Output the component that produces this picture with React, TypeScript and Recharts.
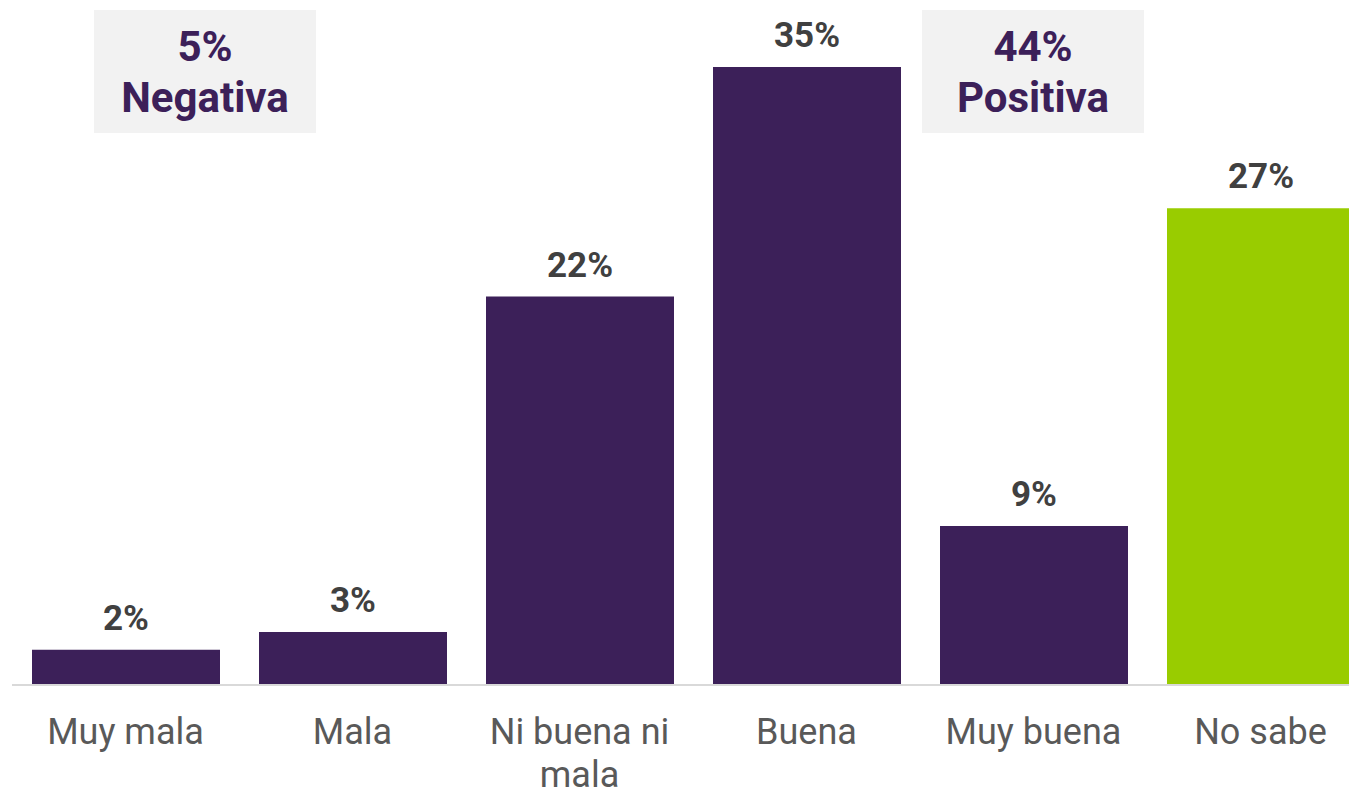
import { Bar, BarChart, Cell, LabelList, XAxis, YAxis } from "recharts";

const categories = ["Muy mala", "Mala", "Ni buena ni mala", "Buena", "Muy buena", "No sabe"];
const shares = [2, 3, 22, 35, 9, 27];
const barColors = ["#3c2059", "#3c2059", "#3c2059", "#3c2059", "#3c2059", "#99cc00"];

const groupLabels = ["5%", "44%"];
const groupNames = ["Negativa", "Positiva"];
const groupBoxes = [94, 922];

const data = categories.map((name, i) => ({ name, share: shares[i] }));

const FONT = "Roboto, 'Noto Sans', sans-serif";

// rough word wrap so long labels go onto two lines like the original
function wrap(label: string, maxChars = 12) {
  const lines: string[] = [];
  let cur = "";
  for (const w of label.split(" ")) {
    const next = cur ? cur + " " + w : w;
    if (next.length > maxChars && cur) {
      lines.push(cur);
      cur = w;
    } else {
      cur = next;
    }
  }
  if (cur) lines.push(cur);
  return lines;
}

function CategoryTick(props: any) {
  const { x, y, payload } = props;
  return (
    <text x={x} y={y + 51} textAnchor="middle" fontSize={36} fontFamily={FONT} fill="#595959">
      {wrap(payload.value).map((line, i) => (
        <tspan key={i} x={x} dy={i === 0 ? 0 : 43}>
          {line}
        </tspan>
      ))}
    </text>
  );
}

export default function App() {
  return (
    <div style={{ margin: -8, width: 1357, height: 796, overflow: "hidden", position: "relative", background: "#fff" }}>
      <BarChart
        width={1380}
        height={796}
        data={data}
        margin={{ top: 0, right: 6, bottom: 0, left: 12 }}
        barSize={188}
      >
        <YAxis hide domain={[0, 38.8]} />
        <XAxis
          dataKey="name"
          height={111}
          tickLine={false}
          axisLine={{ stroke: "#d9d9d9", strokeWidth: 2 }}
          tick={<CategoryTick />}
          interval={0}
        />
        <Bar dataKey="share" isAnimationActive={false}>
          {data.map((d, i) => (
            <Cell key={d.name} fill={barColors[i]} />
          ))}
          <LabelList
            dataKey="share"
            position="top"
            offset={20}
            formatter={(v: any) => `${v}%`}
            style={{ fontFamily: FONT, fontSize: 35, fontWeight: 700, fill: "#404040" }}
          />
        </Bar>
      </BarChart>
      {groupBoxes.map((left, i) => (
        <div
          key={groupNames[i]}
          style={{
            position: "absolute",
            left,
            top: 10,
            width: 222,
            height: 123,
            background: "#f2f2f2",
            color: "#3c2059",
            fontFamily: FONT,
            fontWeight: 700,
            fontSize: 42,
            lineHeight: "51px",
            textAlign: "center",
            display: "flex",
            flexDirection: "column",
            justifyContent: "center",
          }}
        >
          <div>{groupLabels[i]}</div>
          <div>{groupNames[i]}</div>
        </div>
      ))}
    </div>
  );
}
